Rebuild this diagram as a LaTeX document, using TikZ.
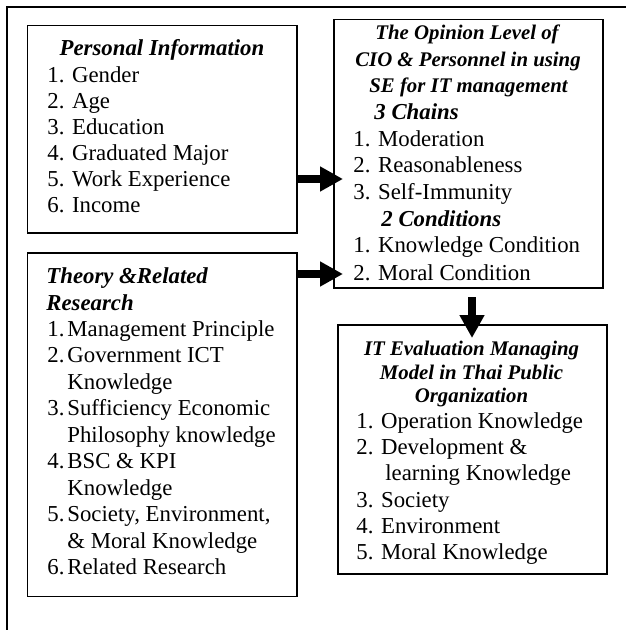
\documentclass[tikz,border=0pt]{standalone}
\usepackage{fontspec}
\setmainfont{Liberation Serif}
\usetikzlibrary{arrows.meta,fit}
\newcommand\diafs{\fontsize{11.4}{13}\selectfont}
\newcommand\diafss{\fontsize{10.4}{12}\selectfont}
\newcommand\nbox[1]{\makebox[10pt][l]{#1}}
\tikzset{
  box/.style={draw, line width=0.75pt, inner sep=0pt},
  txt/.style={inner sep=0pt, anchor=base west, font=\diafs},
  ttl/.style={inner sep=0pt, anchor=base, font=\diafs\bfseries\itshape},
  ttls/.style={inner sep=0pt, anchor=base, font=\diafss\bfseries\itshape},
  ttlw/.style={inner sep=0pt, anchor=base west, font=\diafs\bfseries\itshape},
  bigarrow/.style={line width=3.6pt, -{Triangle[length=11.5pt,width=11.8pt]}},
}
\begin{document}
\begin{tikzpicture}[x=0.5pt,y=-0.5pt]
\useasboundingbox (0,0) rectangle (626,630);
% outer frame (left and top only)
\draw[line width=1pt] (7,630) -- (7,7.5) -- (626,7.5);

% boxes
\node[box, fit={(27.5,25.5) (297,233)}] (b1) {};
\node[box, fit={(27.5,253) (297,596.5)}] (b2) {};
\node[box, fit={(334,19.5) (603,288)}] (b3) {};
\node[box, fit={(338,325) (607,574)}] (b4) {};

% Box 1 text
\node[ttl] (t1) at (162,56) {Personal Information};
\foreach \t [count=\i from 0] in {1. Gender,2. Age,3. Education,4. Graduated Major,5. Work Experience,6. Income}
  \node[txt] (p\i) at (47,{83+26*\i}) {\t};

% Box 2 text
\node[ttlw] (t2a) at (46,283) {Theory \&Related};
\node[ttlw] (t2b) at (46,310) {Research};
\node[txt] (q1) at (47,336)   {\nbox{1.}Management Principle};
\node[txt] (q2) at (47,362.5) {\nbox{2.}Government ICT};
\node[txt] (q3) at (47,389)   {\nbox{}Knowledge};
\node[txt] (q4) at (47,415.5) {\nbox{3.}Sufficiency Economic};
\node[txt] (q5) at (47,442)   {\nbox{}Philosophy knowledge};
\node[txt] (q6) at (47,468.5) {\nbox{4.}BSC \& KPI};
\node[txt] (q7) at (47,495)   {\nbox{}Knowledge};
\node[txt] (q8) at (47,521.5) {\nbox{5.}Society, Environment,};
\node[txt] (q9) at (47,548)   {\nbox{}\& Moral Knowledge};
\node[txt] (q10) at (47,574.5) {\nbox{6.}Related Research};

% Box 3 text
\node[ttls] (t3a) at (467,40) {The Opinion Level of};
\node[ttls] (t3b) at (468,67) {CIO \& Personnel in using};
\node[ttls] (t3c) at (468.5,93) {SE for IT management};
\node[ttlw] (t3d) at (374,120) {3 Chains};
\node[txt] (r1) at (353,147) {1. Moderation};
\node[txt] (r2) at (353,173) {2. Reasonableness};
\node[txt] (r3) at (353,200) {3. Self-Immunity};
\node[ttlw] (t3e) at (381,227) {2 Conditions};
\node[txt] (r4) at (353,253) {1. Knowledge Condition};
\node[txt] (r5) at (353,280) {2. Moral Condition};

% Box 4 text
\node[ttls] (t4a) at (471.5,355) {IT Evaluation Managing};
\node[ttls] (t4b) at (471.5,379) {Model in Thai Public};
\node[ttls] (t4c) at (471.5,402) {Organization};
\node[txt] (s1) at (356,428) {1. Operation Knowledge};
\node[txt] (s2) at (356,454) {2. Development \&};
\node[txt] (s3) at (385,480) {learning Knowledge};
\node[txt] (s4) at (356,507) {3. Society};
\node[txt] (s5) at (356,533) {4. Environment};
\node[txt] (s6) at (356,559) {5. Moral Knowledge};

% arrows
\coordinate (e1) at (343,179);
\coordinate (e2) at (343,274);
\coordinate (e3) at (472,338);
\coordinate (s3a) at (472,297);
\draw[bigarrow] (b1.east |- e1) -- (e1);
\draw[bigarrow] (b2.east |- e2) -- (e2);
\draw[bigarrow] (s3a) -- (e3);
\end{tikzpicture}
\end{document}
